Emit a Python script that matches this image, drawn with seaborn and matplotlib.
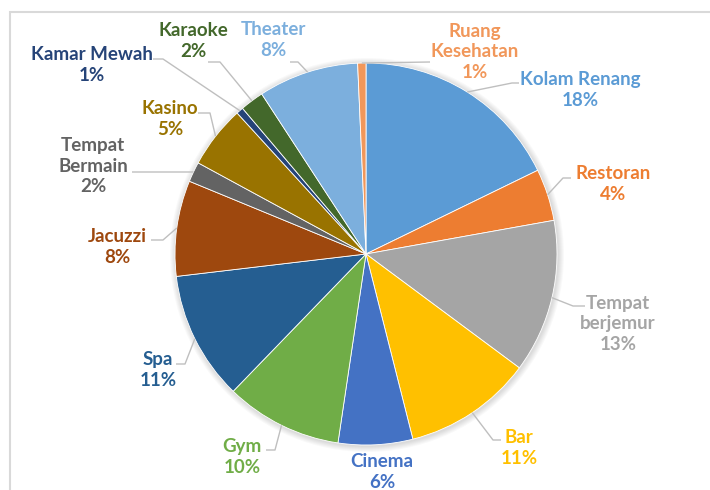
import numpy as np
import matplotlib
matplotlib.use("Agg")
import matplotlib.pyplot as plt
from matplotlib.patches import Circle, Rectangle
import seaborn as sns

# ----------------------------
# Data (share of facilities, %)
# ----------------------------
facilities = ["Kolam Renang", "Restoran", "Tempat berjemur", "Bar", "Cinema", "Gym",
              "Spa", "Jacuzzi", "Tempat Bermain", "Kasino", "Kamar Mewah", "Karaoke",
              "Theater", "Ruang Kesehatan"]
shares = [17.8, 4.4, 13.0, 10.9, 6.3, 9.9, 10.9, 8.1, 1.7, 5.3, 0.6, 2.0, 8.5, 0.7]
colors = ["#5B9BD5", "#ED7D31", "#A5A5A5", "#FFC000", "#4472C4", "#70AD47",
          "#255E91", "#9E480E", "#636363", "#997300", "#264478", "#43682B",
          "#7CAFDD", "#F1975A"]
wrapped = {"Tempat berjemur": "Tempat\nberjemur",
           "Tempat Bermain": "Tempat\nBermain",
           "Ruang Kesehatan": "Ruang\nKesehatan"}

# ----------------------------
# Layout (pixel coords, y from top): text centre, leader elbow, leader tail x
# ----------------------------
H = 490
CX, CY, R = 366, 254, 191
label_layout = {
    "Kolam Renang":    ((580, 90),  (512, 83),  519),
    "Restoran":        ((613, 184), (563, 178), 571),
    "Tempat berjemur": ((618, 324), (573, 306), 585),
    "Bar":             ((519, 448), (493, 440), 501),
    "Cinema":          ((382, 472), None, None),
    "Gym":             ((242, 457), (275, 450), 266),
    "Spa":             ((158, 370), (185, 364), 176),
    "Jacuzzi":         ((117, 247), (163, 240), 151),
    "Tempat Bermain":  ((93, 166),  (193, 172), 132),
    "Kasino":          ((170, 119), (210, 113), 198),
    "Kamar Mewah":     ((92, 65),   (163, 59),  153),
    "Karaoke":         ((193, 41),  (220, 62),  208),
    "Theater":         ((273, 40),  (298, 62),  290),
    "Ruang Kesehatan": ((475, 52),  (430, 62),  430),
}

sns.set_style("white")
plt.rcParams["font.family"] = ["Lato", "DejaVu Sans"]

fig = plt.figure(figsize=(7.1, 4.9), dpi=100)
ax = fig.add_axes([0, 0, 1, 1])

# chart frame (cropped on right / bottom)
fig.patches.append(Rectangle((10 / 710, -0.1), 1.2, (H - 12) / H + 0.1,
                             transform=fig.transFigure, fill=False,
                             edgecolor="#D9D9D9", linewidth=1.5))

# soft shadow around the pie
for k in range(1, 7):
    ax.add_patch(Circle((CX + 1, H - CY - 1), R + k, color="#000000",
                        alpha=0.025, linewidth=0, zorder=0))

wedges, _ = ax.pie(shares, colors=colors, startangle=90, counterclock=False,
                   center=(CX, H - CY), radius=R,
                   wedgeprops=dict(edgecolor="white", linewidth=0.6))

total = sum(shares)
for w, name, val, col in zip(wedges, facilities, shares, colors):
    (tx, ty), elbow, tail = label_layout[name]
    pct = int(round(val / total * 100))
    ax.text(tx, H - ty, f"{wrapped.get(name, name)}\n{pct}%", color=col,
            fontsize=13.5, fontweight="bold", ha="center", va="center",
            linespacing=1.28)
    if elbow is None:
        continue
    mid = np.deg2rad((w.theta1 + w.theta2) / 2)
    ex, ey = CX + R * np.cos(mid), (H - CY) + R * np.sin(mid)
    ax.plot([ex, elbow[0], tail], [ey, H - elbow[1], H - elbow[1]],
            color="#BFBFBF", linewidth=1, solid_capstyle="butt")

ax.set_xlim(0, 710)
ax.set_ylim(0, H)
ax.set_axis_off()

fig.savefig("out.png", dpi=100)
